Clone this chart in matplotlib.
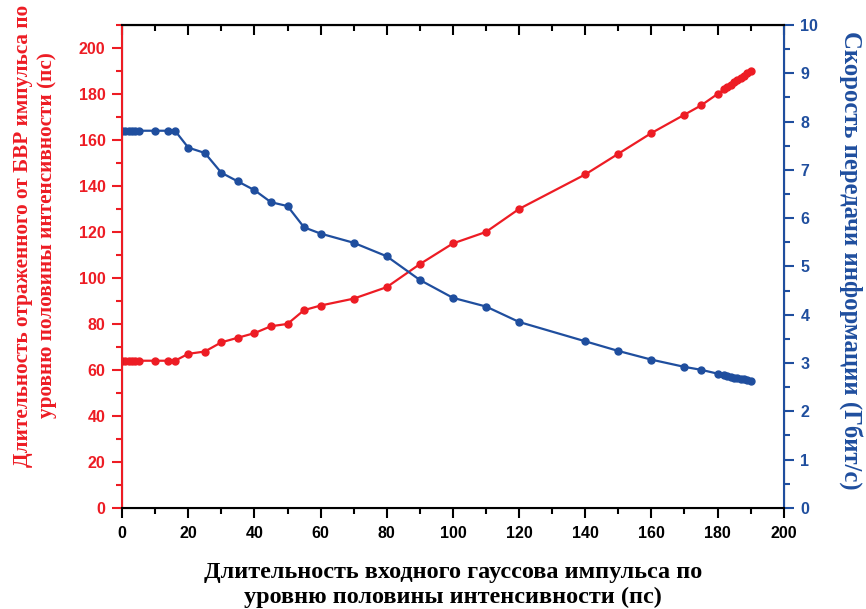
import matplotlib
matplotlib.use("Agg")
import matplotlib.pyplot as plt
from matplotlib.ticker import MultipleLocator

# входная длительность (пс)
t_in = [0, 1, 2, 3, 4, 5, 10, 14, 16, 20, 25, 30, 35, 40, 45, 50, 55, 60, 70, 80,
        90, 100, 110, 120, 140, 150, 160, 170, 175, 180, 182, 183, 184, 185, 186,
        187, 188, 189, 190]
# длительность отраженного импульса (пс)
t_out = [64, 64, 64, 64, 64, 64, 64, 64, 64, 67, 68, 72, 74, 76, 79, 80, 86, 88, 91, 96,
         106, 115, 120, 130, 145, 154, 163, 171, 175, 180, 182, 183, 184, 185, 186,
         187, 188, 189, 190]
# скорость передачи (Гбит/с)
rate = [7.81, 7.81, 7.81, 7.81, 7.81, 7.81, 7.81, 7.81, 7.81, 7.46, 7.35, 6.94, 6.76,
        6.58, 6.33, 6.25, 5.81, 5.68, 5.49, 5.21, 4.72, 4.35, 4.17, 3.85, 3.45, 3.25,
        3.07, 2.92, 2.86, 2.78, 2.75, 2.73, 2.72, 2.70, 2.69, 2.67, 2.66, 2.65, 2.63]

red = "#ED1C24"
blue = "#1F4E9E"
serif = "Liberation Serif"
sans = "Liberation Sans"

fig = plt.figure(figsize=(8.66, 6.09), dpi=100)
ax = fig.add_axes([0.141, 0.166, 0.764, 0.793])
ax2 = ax.twinx()

ax.plot(t_in, t_out, color=red, lw=1.6, marker="o", ms=5)
ax2.plot(t_in, rate, color=blue, lw=1.6, marker="o", ms=5)

ax.set_xlim(0, 200)
ax.set_ylim(0, 210)
ax2.set_ylim(0, 10)

ax.xaxis.set_major_locator(MultipleLocator(20))
ax.xaxis.set_minor_locator(MultipleLocator(10))
ax.yaxis.set_major_locator(MultipleLocator(20))
ax.yaxis.set_minor_locator(MultipleLocator(10))
ax2.yaxis.set_major_locator(MultipleLocator(1))
ax2.yaxis.set_minor_locator(MultipleLocator(0.5))

ax.tick_params(axis="x", which="both", top=False, direction="out", width=1.5, colors="black")
ax.tick_params(axis="x", which="major", length=7, pad=6)
ax.tick_params(axis="x", which="minor", length=4)
ax.tick_params(axis="y", which="both", colors=red, width=1.5)
ax.tick_params(axis="y", which="major", length=7, pad=5)
ax.tick_params(axis="y", which="minor", length=4)
ax2.tick_params(axis="y", which="both", colors=blue, width=1.5)
ax2.tick_params(axis="y", which="major", length=7, pad=5)
ax2.tick_params(axis="y", which="minor", length=4)

# верхняя ось: засечки внутрь, без подписей
top = ax.secondary_xaxis("top")
top.xaxis.set_major_locator(MultipleLocator(20))
top.xaxis.set_minor_locator(MultipleLocator(10))
top.tick_params(which="both", direction="in", width=1.5, labeltop=False)
top.tick_params(which="major", length=7)
top.tick_params(which="minor", length=4)
top.spines["top"].set_linewidth(1.5)

for lab in ax.get_xticklabels() + ax.get_yticklabels() + ax2.get_yticklabels():
    lab.set_fontfamily(sans)
    lab.set_fontweight("bold")
    lab.set_fontsize(11.5)

for s in ["top", "bottom"]:
    ax2.spines[s].set_color("black")
    ax2.spines[s].set_linewidth(1.5)
ax2.spines["left"].set_color(red)
ax2.spines["left"].set_linewidth(1.5)
ax2.spines["right"].set_color(blue)
ax2.spines["right"].set_linewidth(1.5)

ax.set_xlabel("Длительность входного гауссова импульса по\nуровню половины интенсивности (пс)",
              fontfamily=serif, fontweight="bold", fontsize=17.5, color="black",
              linespacing=1.25)
ax.xaxis.set_label_coords(0.5, -0.112)
ax.set_ylabel("Длительность отраженного от БВР импульса по\nуровню половины интенсивности (пс)",
              fontfamily=serif, fontweight="bold", fontsize=15.3, color=red,
              linespacing=1.25)
ax.yaxis.set_label_coords(-0.099, 0.564)
ax2.set_ylabel("Скорость передачи информации (Гбит/с)", rotation=270,
               fontfamily=serif, fontweight="bold", fontsize=17.8, color=blue)
ax2.yaxis.set_label_coords(1.12, 0.513)

fig.savefig("out.png", dpi=100)
